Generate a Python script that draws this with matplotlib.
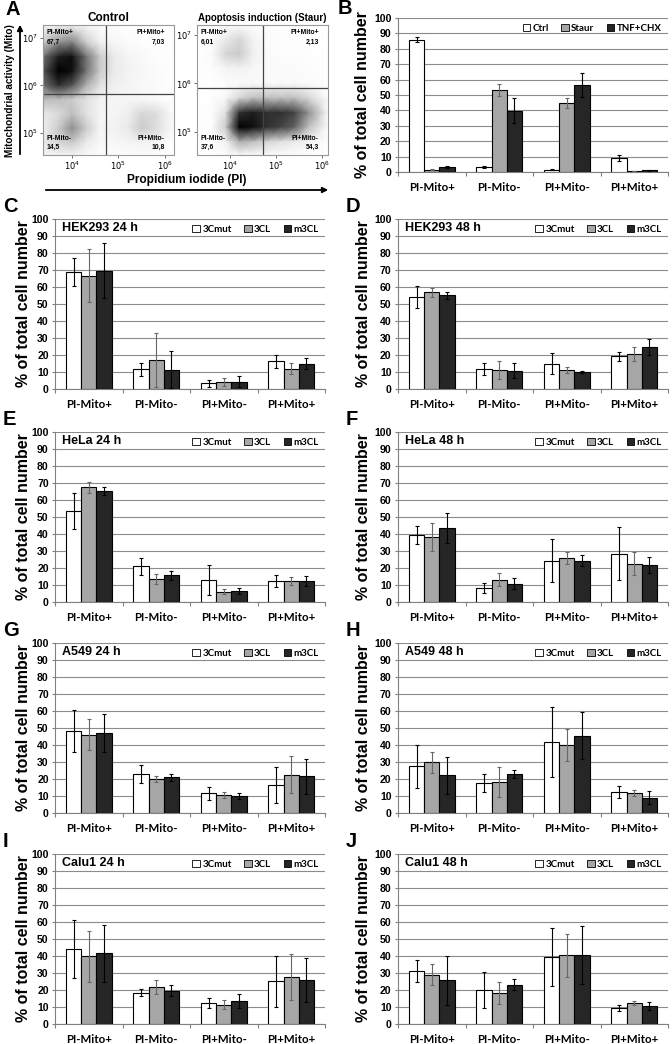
import numpy as np
import matplotlib
matplotlib.use("Agg")
import matplotlib.pyplot as plt
from matplotlib.patches import FancyArrowPatch, Patch

plt.rcParams['font.family'] = ['Liberation Sans', 'DejaVu Sans']

W, H = 672, 1044
fig = plt.figure(figsize=(W / 100, H / 100), dpi=100)


def px_axes(x0, y0, x1, y1):
    return fig.add_axes([x0 / W, 1 - y1 / H, (x1 - x0) / W, (y1 - y0) / H])


# ---------------- panel A : flow cytometry density ----------------
quad_names = ['PI-Mito+', 'PI+Mito+', 'PI-Mito-', 'PI+Mito-']
ctrl_pct = ['67,7', '7,03', '14,5', '10,8']
staur_pct = ['6,01', '2,13', '37,6', '54,3']

# grid nodes (log10) and grey level of the dot cloud
ctrl_xlog = [3.37, 3.7, 4.0, 4.3, 4.6, 4.9, 5.2, 5.5, 5.8, 6.2]
ctrl_ylog = [7.27, 6.9, 6.6, 6.3, 6.0, 5.7, 5.4, 5.1, 4.8, 4.54]
ctrl_density = [
    [0.05, 0.10, 0.10, 0.05, 0.02, 0.01, 0.00, 0.00, 0.00, 0.00],
    [0.30, 0.50, 0.55, 0.30, 0.12, 0.06, 0.03, 0.02, 0.01, 0.00],
    [0.60, 0.85, 0.90, 0.60, 0.30, 0.15, 0.08, 0.05, 0.02, 0.00],
    [0.70, 0.95, 0.90, 0.60, 0.30, 0.15, 0.10, 0.06, 0.03, 0.00],
    [0.60, 0.80, 0.70, 0.40, 0.20, 0.12, 0.08, 0.05, 0.03, 0.00],
    [0.35, 0.35, 0.30, 0.20, 0.10, 0.08, 0.08, 0.07, 0.05, 0.00],
    [0.15, 0.22, 0.35, 0.20, 0.08, 0.08, 0.12, 0.25, 0.22, 0.02],
    [0.12, 0.30, 0.50, 0.30, 0.08, 0.10, 0.15, 0.30, 0.22, 0.02],
    [0.15, 0.25, 0.30, 0.15, 0.05, 0.06, 0.08, 0.10, 0.08, 0.00],
    [0.10, 0.10, 0.10, 0.05, 0.02, 0.02, 0.02, 0.03, 0.02, 0.00],
]
staur_xlog = [3.28, 3.6, 3.9, 4.2, 4.5, 4.8, 5.1, 5.4, 5.7, 6.13]
staur_ylog = [7.2, 6.9, 6.6, 6.3, 6.0, 5.7, 5.4, 5.1, 4.8, 4.53]
staur_density = [
    [0.00, 0.00, 0.02, 0.03, 0.02, 0.01, 0.00, 0.00, 0.00, 0.00],
    [0.00, 0.02, 0.15, 0.25, 0.10, 0.03, 0.02, 0.01, 0.01, 0.00],
    [0.00, 0.03, 0.25, 0.30, 0.12, 0.04, 0.02, 0.02, 0.01, 0.00],
    [0.00, 0.02, 0.08, 0.10, 0.06, 0.04, 0.03, 0.03, 0.02, 0.00],
    [0.00, 0.01, 0.03, 0.05, 0.05, 0.05, 0.05, 0.05, 0.04, 0.00],
    [0.00, 0.01, 0.05, 0.25, 0.35, 0.35, 0.35, 0.35, 0.25, 0.02],
    [0.00, 0.02, 0.20, 0.80, 0.85, 0.80, 0.80, 0.75, 0.50, 0.03],
    [0.00, 0.02, 0.30, 0.95, 0.90, 0.80, 0.75, 0.65, 0.35, 0.02],
    [0.00, 0.01, 0.10, 0.40, 0.35, 0.25, 0.20, 0.15, 0.08, 0.00],
    [0.00, 0.00, 0.02, 0.05, 0.04, 0.03, 0.02, 0.02, 0.01, 0.00],
]
ctrl_gate = (4.74, 5.83)
staur_gate = (4.72, 5.90)


def flow_plot(box, xlog, ylog, dens, gate, pct, title, tsize):
    ax = px_axes(*box)
    ax.set_xscale('log')
    ax.set_yscale('log')
    xx = 10 ** np.array(xlog)
    yy = 10 ** np.array(ylog)
    ax.pcolormesh(xx, yy, np.array(dens), cmap='Greys', vmin=0, vmax=0.95,
                  shading='gouraud', rasterized=True)
    ax.set_xlim(xx[0], xx[-1])
    ax.set_ylim(yy[-1], yy[0])
    ax.axvline(10 ** gate[0], color='#444444', lw=0.9)
    ax.axhline(10 ** gate[1], color='#444444', lw=0.9)
    ax.set_xticks([1e4, 1e5, 1e6])
    ax.set_xticklabels([r'$10^4$', r'$10^5$', r'$10^6$'])
    ax.set_yticks([1e5, 1e6, 1e7])
    ax.set_yticklabels([r'$10^5$', r'$10^6$', r'$10^7$'])
    ax.minorticks_off()
    ax.tick_params(labelsize=6, length=2, width=0.6, pad=1.5, color='#555555')
    for s in ax.spines.values():
        s.set_color('#999999')
        s.set_linewidth(0.8)
    kw = dict(transform=ax.transAxes, fontsize=4.9, fontweight='bold', linespacing=1.5)
    ax.text(0.03, 0.97, quad_names[0] + '\n' + pct[0], ha='left', va='top', **kw)
    ax.text(0.93, 0.97, quad_names[1] + '\n' + pct[1], ha='right', va='top',
            multialignment='right', **kw)
    ax.text(0.03, 0.03, quad_names[2] + '\n' + pct[2], ha='left', va='bottom', **kw)
    ax.text(0.93, 0.03, quad_names[3] + '\n' + pct[3], ha='right', va='bottom',
            multialignment='right', **kw)
    ax.set_title(title, fontsize=tsize, fontweight='bold', pad=3)
    return ax


flow_plot((43, 25, 174, 155), ctrl_xlog, ctrl_ylog, ctrl_density, ctrl_gate,
          ctrl_pct, 'Control', 8.5)
flow_plot((197, 25, 328, 155), staur_xlog, staur_ylog, staur_density, staur_gate,
          staur_pct, 'Apoptosis induction (Staur)', 7)

fig.add_artist(FancyArrowPatch((20 / W, 1 - 157 / H), (20 / W, 1 - 22 / H),
                               transform=fig.transFigure, arrowstyle='-|>',
                               mutation_scale=8, lw=1.3, color='black'))
fig.add_artist(FancyArrowPatch((43 / W, 1 - 190 / H), (331 / W, 1 - 190 / H),
                               transform=fig.transFigure, arrowstyle='-|>',
                               mutation_scale=8, lw=1.3, color='black'))
fig.text(10 / W, 1 - 91 / H, 'Mitochondrial activity (Mito)', rotation=90,
         ha='center', va='center', fontsize=7.2, fontweight='bold')
fig.text(187 / W, 1 - 180 / H, 'Propidium iodide (PI)', ha='center', va='center',
         fontsize=8.6, fontweight='bold')

# ---------------- bar chart data ----------------
categories = ['PI-Mito+', 'PI-Mito-', 'PI+Mito-', 'PI+Mito+']

b_names = ['Ctrl', 'Staur', 'TNF+CHX']
b_mean = [[86.0, 3.5, 1.5, 9.3],
          [1.5, 53.5, 44.8, 0.5],
          [3.2, 39.8, 56.5, 1.0]]
b_err = [[1.5, 0.6, 0.2, 2.0],
         [0.5, 3.9, 3.2, 0.1],
         [0.8, 8.3, 7.5, 0.2]]

cl_names = ['3Cmut', '3CL', 'm3CL']

hek24_mean = [[68.8, 11.6, 3.3, 16.3], [66.7, 17.0, 3.9, 12.0], [69.6, 11.4, 4.3, 14.9]]
hek24_err = [[8.5, 3.9, 2.2, 3.7], [15.7, 16.0, 2.4, 3.3], [16.0, 11.0, 3.3, 3.1]]
hek48_mean = [[54.3, 11.8, 14.9, 19.2], [57.0, 11.2, 11.2, 20.6], [55.1, 10.8, 10.0, 24.7]]
hek48_err = [[6.4, 3.5, 6.3, 2.7], [2.6, 5.2, 1.5, 3.9], [2.2, 4.6, 0.8, 4.9]]
hela24_mean = [[53.5, 21.0, 12.9, 12.4], [67.4, 13.5, 6.1, 12.4], [65.2, 15.7, 6.7, 12.4]]
hela24_err = [[10.7, 5.1, 8.8, 3.5], [3.4, 3.2, 1.6, 2.5], [2.5, 2.5, 1.7, 3.0]]
hela48_mean = [[39.6, 8.2, 24.3, 28.4], [38.2, 13.1, 26.0, 22.5], [43.5, 10.8, 24.3, 21.6]]
hela48_err = [[5.3, 3.1, 12.5, 15.7], [8.4, 3.7, 3.7, 6.9], [8.8, 3.3, 3.3, 4.8]]
a549_24_mean = [[48.4, 22.9, 11.6, 16.5], [46.1, 20.0, 10.8, 22.5], [47.1, 21.0, 10.2, 21.6]]
a549_24_err = [[12.3, 5.2, 3.9, 10.6], [9.0, 1.7, 1.8, 10.8], [11.4, 2.0, 1.8, 10.3]]
a549_48_mean = [[27.5, 17.6, 42.0, 12.4], [29.8, 18.2, 40.0, 11.8], [22.2, 23.1, 45.5, 9.0]]
a549_48_err = [[12.5, 5.5, 20.6, 3.4], [6.2, 8.9, 9.7, 1.9], [10.9, 2.4, 14.0, 3.7]]
calu24_mean = [[44.0, 18.5, 12.4, 25.1], [39.9, 21.8, 11.4, 27.5], [41.5, 19.6, 13.4, 25.9]]
calu24_err = [[17.0, 1.8, 3.0, 15.1], [15.0, 4.2, 2.8, 13.4], [16.7, 3.2, 4.2, 13.0]]
calu48_mean = [[31.0, 20.0, 39.5, 9.4], [29.1, 18.3, 40.5, 12.2], [25.7, 23.2, 40.7, 10.6]]
calu48_err = [[6.4, 10.3, 17.2, 2.0], [6.4, 6.7, 12.6, 1.3], [14.4, 3.4, 16.9, 2.5]]

fills = ['white', '#a6a6a6', '#262626']
err_cols = ['black', '#666666', 'black']


def bar_panel(box, means, errs, names, title, letter, ylab_x, letter_xy=None):
    ax = px_axes(*box)
    x = np.arange(len(categories))
    w = 0.225
    for i in range(3):
        ax.bar(x + (i - 1) * w, means[i], w, color=fills[i], edgecolor='black',
               linewidth=0.8, yerr=errs[i], ecolor=err_cols[i], capsize=1.6,
               error_kw=dict(elinewidth=0.8, capthick=0.8), label=names[i], zorder=3)
    ax.set_xlim(-0.5, 3.5)
    ax.set_ylim(0, 100)
    ax.set_yticks(range(0, 101, 10))
    ax.yaxis.grid(True, color='#8c8c8c', lw=0.8)
    ax.set_axisbelow(True)
    ax.set_xticks(x)
    ax.set_xticklabels(categories, family=['Lato', 'DejaVu Sans'], fontweight='bold',
                       fontsize=8.3)
    ax.set_xticks(np.arange(-0.5, 4, 1), minor=True)
    ax.tick_params(axis='x', which='major', length=0, pad=7)
    ax.tick_params(axis='x', which='minor', length=3, color='#808080', width=0.8)
    ax.tick_params(axis='y', length=2.5, color='#808080', width=0.8, pad=2,
                   labelsize=7.6)
    for t in ax.get_yticklabels():
        t.set_fontweight('bold')
    for s in ['top', 'right']:
        ax.spines[s].set_visible(False)
    for s in ['left', 'bottom']:
        ax.spines[s].set_color('#808080')
        ax.spines[s].set_linewidth(0.8)
    ax.set_ylabel('% of total cell number', fontsize=11.5, fontweight='bold')
    ax.yaxis.set_label_coords(ylab_x, 0.5)
    handles = [Patch(facecolor=fills[i], edgecolor='black', linewidth=0.6)
               for i in range(3)]
    ax.legend(handles, names, loc='upper right', bbox_to_anchor=(1.0, 1.0), ncol=3,
              frameon=False, handlelength=0.75, handleheight=0.75, handletextpad=0.25,
              columnspacing=1.3, borderaxespad=0.25,
              prop=dict(family=['Lato', 'DejaVu Sans'], weight='bold', size=7))
    if title:
        ax.text(0.026, 0.947, title, transform=ax.transAxes, ha='left', va='center',
                fontsize=9, fontweight='bold')
    if letter_xy is None:
        letter_xy = (box[0] - 52, box[1] - 3)
    fig.text(letter_xy[0] / W, 1 - letter_xy[1] / H, letter, fontsize=14.5,
             fontweight='bold', ha='left', va='bottom')
    return ax


bar_panel((398, 18, 668, 172), b_mean, b_err, b_names, None, 'B', -0.105,
          letter_xy=(338, 18))

rows = [219, 432, 643, 854]
left_x = (55, 325)
right_x = (398, 668)
panels = [
    (hek24_mean, hek24_err, 'HEK293 24 h', 'C', hek48_mean, hek48_err, 'HEK293 48 h', 'D'),
    (hela24_mean, hela24_err, 'HeLa 24 h', 'E', hela48_mean, hela48_err, 'HeLa 48 h', 'F'),
    (a549_24_mean, a549_24_err, 'A549 24 h', 'G', a549_48_mean, a549_48_err, 'A549 48 h', 'H'),
    (calu24_mean, calu24_err, 'Calu1 24 h', 'I', calu48_mean, calu48_err, 'Calu1 48 h', 'J'),
]
for top, p in zip(rows, panels):
    bar_panel((left_x[0], top, left_x[1], top + 170), p[0], p[1], cl_names, p[2], p[3], -0.09)
    bar_panel((right_x[0], top, right_x[1], top + 170), p[4], p[5], cl_names, p[6], p[7], -0.1)

fig.text(5 / W, 1 - 19 / H, 'A', fontsize=14.5, fontweight='bold', ha='left', va='bottom')

fig.savefig('out.png', dpi=100)
